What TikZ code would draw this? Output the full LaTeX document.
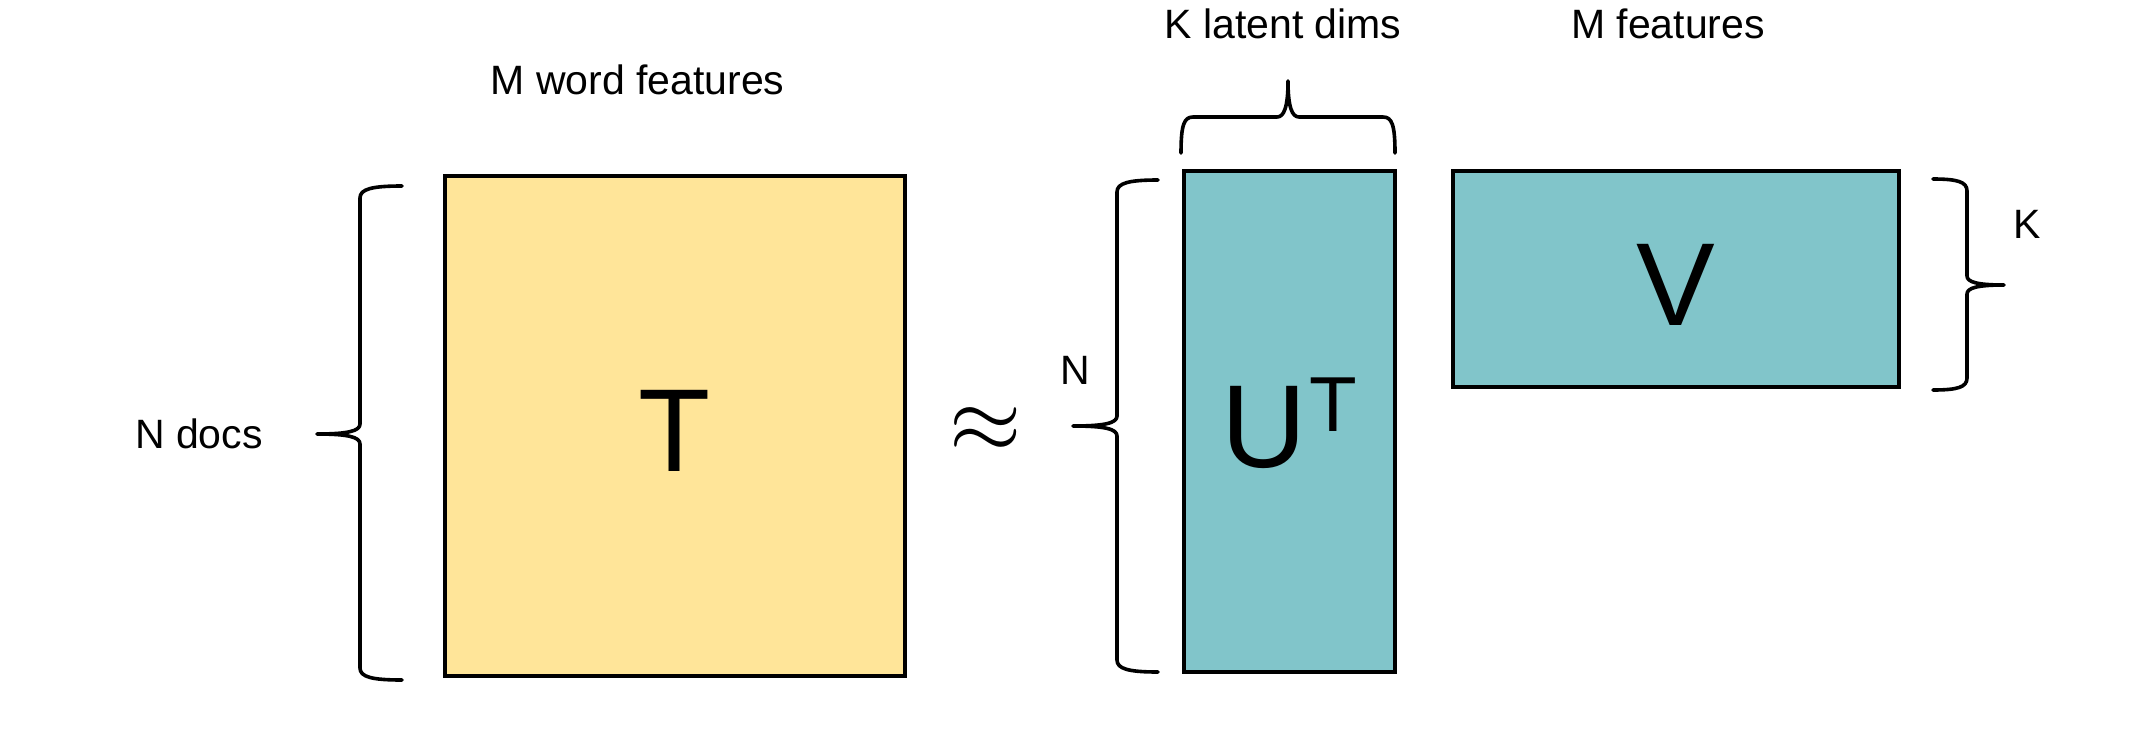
\documentclass[tikz,border=0pt]{standalone}
\usepackage{fontspec}
\setmainfont{Liberation Sans}
\definecolor{matyellow}{RGB}{255,229,153}
\definecolor{matteal}{RGB}{129,197,202}
\tikzset{
  matbox/.style={draw=black, line width=4.2pt, inner sep=0pt, outer sep=0pt, anchor=north west},
  bracepath/.style={draw=black, line width=3.6pt, line cap=round, line join=round},
  lbl/.style={inner sep=0pt, font=\fontsize{41}{41}\selectfont},
  biglet/.style={inner sep=0pt, font=\fontsize{118}{118}\selectfont},
}
\begin{document}
\begin{tikzpicture}[x=1pt,y=-1pt]
\useasboundingbox (0,0) rectangle (2140,742);
% matrices
\node[matbox, fill=matyellow, minimum width=460pt, minimum height=500pt] (Tmat) at (445.25,176.25) {};
\node[matbox, fill=matteal, minimum width=211.5pt, minimum height=501pt] (Umat) at (1183.75,170.75) {};
\node[matbox, fill=matteal, minimum width=446.5pt, minimum height=216.5pt] (Vmat) at (1452.75,170.75) {};
% letters
\node[biglet, anchor=base] (Tlet) at (675,471) {T};
\node[inner sep=0pt, font=\fontsize{118}{118}\selectfont, anchor=base west] (Ulet) at (1221,467) {U};
\node[inner sep=0pt, font=\fontsize{78}{78}\selectfont, anchor=base west] (Usup) at (1309,431) {T};
\node[biglet, anchor=base] (Vlet) at (1676,325) {V};
\node[inner sep=0pt, scale=9.3] (approx) at (986,430) {$\approx$};
% labels
\node[lbl, anchor=base] (mword) at (637.5,94) {M word features};
\node[lbl, anchor=base] (klat) at (1283,38) {K latent dims};
\node[lbl, anchor=base] (mfeat) at (1668,38) {M features};
\node[lbl, anchor=base] (ndocs) at (199,448) {N docs};
\node[lbl, anchor=base west] (nlab) at (1060,384) {N};
\node[lbl, anchor=base west] (klab) at (2013,238) {K};
% braces
\draw[bracepath] (402,186) .. controls (372,186) and (360,189) .. (360,198) -- (360,424)
  .. controls (360,431) and (348,434) .. (317,434)
  .. controls (348,434) and (360,437) .. (360,444) -- (360,668)
  .. controls (360,677) and (372,680) .. (402,680);
\draw[bracepath] (1158,180) .. controls (1129,180) and (1117,183) .. (1117,192) -- (1117,416)
  .. controls (1117,423) and (1105,426) .. (1073,426)
  .. controls (1105,426) and (1117,429) .. (1117,436) -- (1117,660)
  .. controls (1117,669) and (1129,672) .. (1158,672);
\draw[bracepath] (1181,153) .. controls (1181,125) and (1184,117) .. (1193,117) -- (1277,117)
  .. controls (1284,117) and (1288,107) .. (1288,81)
  .. controls (1288,107) and (1292,117) .. (1299,117) -- (1383,117)
  .. controls (1392,117) and (1395,125) .. (1395,153);
\draw[bracepath] (1933,179) .. controls (1958,179) and (1967,182) .. (1967,191) -- (1967,276)
  .. controls (1967,282) and (1977,285) .. (2004,285)
  .. controls (1977,285) and (1967,288) .. (1967,294) -- (1967,378)
  .. controls (1967,387) and (1958,390) .. (1933,390);
\end{tikzpicture}
\end{document}
